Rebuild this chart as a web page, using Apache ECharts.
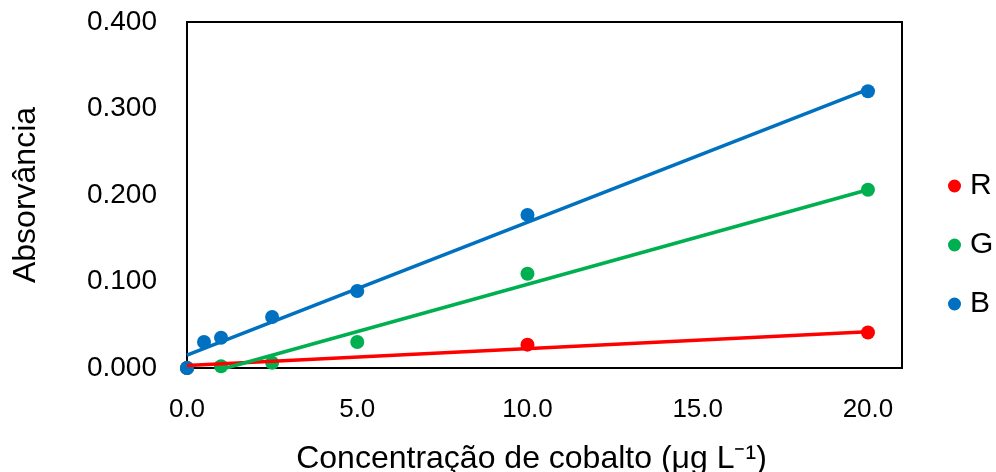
<!DOCTYPE html>
<html>
<head>
<meta charset="utf-8">
<script src="https://cdn.jsdelivr.net/npm/echarts@6/dist/echarts.min.js"></script>
<style>
  html, body { margin: 0; padding: 0; background: #fff; }
  #main { width: 996px; height: 472px; }
</style>
</head>
<body>
<div id="main"></div>
<script>
// dados
const concB = [0, 0.5, 1, 2.5, 5, 10, 20];
const absB = [0, 0.030, 0.035, 0.059, 0.089, 0.177, 0.320];
const concG = [0, 1, 2.5, 5, 10, 20];
const absG = [0, 0.002, 0.006, 0.030, 0.109, 0.206];
const concR = [0, 10, 20];
const absR = [0, 0.027, 0.041];

// linhas de tendência (pontos extremos)
const trendB = [[0, 0.015], [20, 0.322]];
const trendG = [[1.15, 0], [20, 0.206]];
const trendR = [[0, 0.003], [20, 0.042]];

const xTicks = [0, 5, 10, 15, 20];

const colR = '#ff0000';
const colG = '#00b050';
const colB = '#0070c0';
const font = 'Liberation Sans, Arial, sans-serif';

const zip = (xs, ys) => xs.map((x, i) => [x, ys[i]]);

const myChart = echarts.init(document.getElementById('main'));

function scatter(name, data, color) {
  return {
    name, type: 'scatter', data, symbolSize: 14,
    itemStyle: { color, opacity: 1 }, z: 2
  };
}
function trend(name, data, color) {
  return {
    name, type: 'line', data, symbol: 'none', silent: true,
    lineStyle: { color, width: 3.5 }, z: 3
  };
}

myChart.setOption({
  animation: false,
  grid: {
    left: 187, right: 94, top: 22, bottom: 104,
    outerBoundsMode: 'none', containLabel: false,
    show: true, borderColor: '#000', borderWidth: 2
  },
  legend: {
    data: ['R', 'G', 'B'],
    orient: 'vertical',
    left: 943, top: 166,
    itemWidth: 13, itemHeight: 13, itemGap: 29,
    icon: 'circle',
    textStyle: { fontFamily: font, fontSize: 30, color: '#000', padding: [0, 0, 0, 4] }
  },
  xAxis: {
    type: 'value', min: 0, max: 21, interval: 5,
    name: 'Concentração de cobalto (μg L⁻¹)',
    nameLocation: 'middle', nameGap: 75,
    nameTextStyle: { fontFamily: font, fontSize: 32, color: '#000', padding: [0, 26, 0, 0] },
    axisLine: { lineStyle: { color: '#000', width: 2 } },
    axisTick: { show: false },
    splitLine: { show: false },
    axisLabel: {
      fontFamily: font, fontSize: 26, color: '#000', margin: 29,
      showMaxLabel: false,
      formatter: v => xTicks.includes(v) ? v.toFixed(1) : ''
    }
  },
  yAxis: {
    type: 'value', min: 0, max: 0.4, interval: 0.1,
    name: 'Absorvância',
    nameLocation: 'middle', nameGap: 145,
    nameTextStyle: { fontFamily: font, fontSize: 32, color: '#000' },
    axisLine: { show: true, lineStyle: { color: '#000', width: 2 } },
    axisTick: { show: false },
    splitLine: { show: false },
    axisLabel: {
      fontFamily: font, fontSize: 28, color: '#000', margin: 30,
      formatter: v => v.toFixed(3)
    }
  },
  series: [
    scatter('R', zip(concR, absR), colR),
    scatter('G', zip(concG, absG), colG),
    scatter('B', zip(concB, absB), colB),
    trend('tR', trendR, colR),
    trend('tG', trendG, colG),
    trend('tB', trendB, colB)
  ]
});
</script>
</body>
</html>
